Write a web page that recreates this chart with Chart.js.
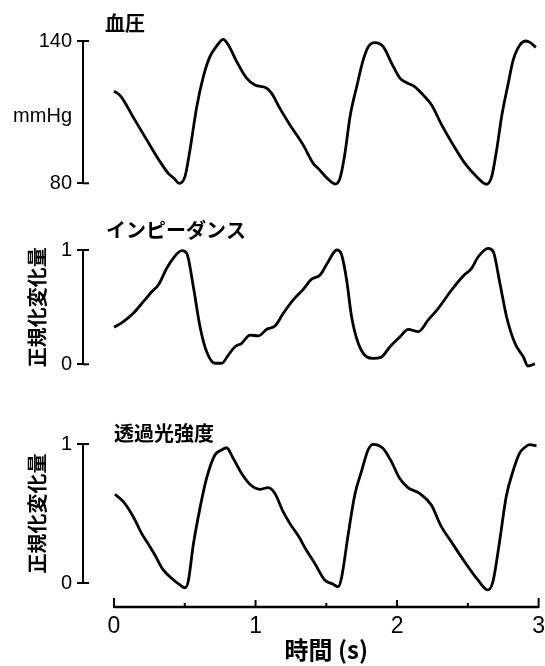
<!DOCTYPE html>
<html>
<head>
<meta charset="utf-8">
<script src="https://cdn.jsdelivr.net/npm/chart.js@4"></script>
<style>
  html, body { margin: 0; background: #fff; }
  #wrap { position: relative; width: 545px; height: 666px; }
  canvas { position: absolute; left: 0; top: 0; }
</style>
</head>
<body>
<div id="wrap">
  <canvas id="bpChart" width="545" height="666"></canvas>
  <canvas id="impChart" width="545" height="666"></canvas>
  <canvas id="lightChart" width="545" height="666"></canvas>
</div>
<script>
// Blood pressure (mmHg)
const bpTime = [0.000, 0.047, 0.136, 0.231, 0.325, 0.383, 0.423, 0.461, 0.501, 0.536, 0.584, 0.630, 0.677, 0.725, 0.771, 0.807, 0.866, 0.936, 0.995, 1.078, 1.113, 1.171, 1.242, 1.336, 1.406, 1.441, 1.512, 1.560, 1.595, 1.630, 1.666, 1.713, 1.759, 1.795, 1.842, 1.900, 1.960, 2.018, 2.066, 2.124, 2.183, 2.242, 2.313, 2.395, 2.477, 2.560, 2.630, 2.666, 2.701, 2.736, 2.783, 2.818, 2.865, 2.908, 2.936, 2.978];
const bpValue = [118.9, 116.8, 107.8, 98.3, 89.1, 84.2, 82.1, 80.0, 82.8, 94.0, 112.3, 124.9, 133.4, 137.9, 140.7, 138.3, 131.3, 124.3, 121.4, 120.1, 117.9, 111.6, 104.6, 96.1, 88.4, 86.3, 81.7, 79.7, 82.1, 92.6, 108.1, 120.7, 132.0, 137.6, 139.3, 137.6, 130.6, 124.3, 122.4, 120.7, 117.2, 113.0, 104.6, 96.1, 88.4, 82.8, 79.6, 82.8, 94.0, 108.1, 122.2, 132.0, 138.3, 140.0, 139.4, 137.3];

// Impedance (normalised change)
const impTime = [0.000, 0.066, 0.136, 0.207, 0.266, 0.313, 0.372, 0.418, 0.478, 0.513, 0.560, 0.607, 0.654, 0.713, 0.760, 0.807, 0.854, 0.901, 0.960, 1.018, 1.078, 1.136, 1.195, 1.265, 1.336, 1.395, 1.454, 1.512, 1.572, 1.607, 1.642, 1.677, 1.724, 1.783, 1.830, 1.884, 1.948, 2.019, 2.077, 2.148, 2.218, 2.289, 2.383, 2.465, 2.524, 2.571, 2.641, 2.677, 2.724, 2.771, 2.830, 2.889, 2.922, 2.971];
const impValue = [0.324, 0.373, 0.446, 0.548, 0.635, 0.694, 0.840, 0.927, 0.994, 0.971, 0.679, 0.329, 0.110, 0.009, 0.009, 0.081, 0.154, 0.184, 0.256, 0.248, 0.306, 0.335, 0.446, 0.563, 0.656, 0.745, 0.781, 0.898, 1.000, 0.956, 0.738, 0.416, 0.184, 0.066, 0.052, 0.061, 0.154, 0.241, 0.306, 0.285, 0.388, 0.490, 0.650, 0.773, 0.840, 0.941, 1.015, 0.985, 0.709, 0.416, 0.184, 0.066, -0.015, 0.003];

// Transmitted light intensity (normalised change)
const lightTime = [0.007, 0.066, 0.136, 0.195, 0.254, 0.289, 0.348, 0.407, 0.466, 0.501, 0.524, 0.560, 0.607, 0.654, 0.713, 0.760, 0.795, 0.842, 0.901, 0.960, 1.030, 1.089, 1.136, 1.195, 1.242, 1.313, 1.348, 1.418, 1.489, 1.548, 1.583, 1.607, 1.654, 1.701, 1.748, 1.795, 1.830, 1.900, 1.960, 2.018, 2.077, 2.159, 2.242, 2.313, 2.383, 2.477, 2.571, 2.641, 2.677, 2.724, 2.771, 2.818, 2.865, 2.900, 2.936, 2.985];
const lightValue = [0.638, 0.585, 0.477, 0.357, 0.261, 0.201, 0.094, 0.034, -0.014, -0.034, 0.009, 0.273, 0.537, 0.753, 0.921, 0.957, 0.973, 0.897, 0.789, 0.710, 0.674, 0.686, 0.645, 0.513, 0.429, 0.322, 0.255, 0.142, 0.022, -0.009, -0.027, 0.034, 0.345, 0.633, 0.801, 0.957, 0.998, 0.969, 0.873, 0.753, 0.686, 0.645, 0.561, 0.405, 0.297, 0.153, 0.022, -0.050, 0.009, 0.297, 0.621, 0.801, 0.933, 0.973, 0.996, 0.986];

// Ticks and labels
const bpTicks = [80, 108, 140];
const bpTickLabels = ['80', 'mmHg', '140'];
const normTicks = [0, 1];
const normTickLabels = ['0', '1'];
const timeTicks = [0, 1, 2, 3];
const timeMinorTicks = [0.5, 1.5, 2.5];

const bpTitle = '血圧';
const impTitle = 'インピーダンス';
const lightTitle = '透過光強度';
const normAxisTitle = '正規化変化量';
const timeAxisTitle = '時間 (s)';

const cjkFont = '"Noto Sans CJK JP", sans-serif';
const latinFont = '"Liberation Sans", Arial, sans-serif';

// Extra axis pieces: inner half of y ticks, panel label, detached time axis
const axisExtras = {
  id: 'axisExtras',
  afterDraw(chart, args, opts) {
    const ctx = chart.ctx;
    const x = chart.scales.x;
    const y = chart.scales.y;
    const left = chart.chartArea.left;
    ctx.save();
    ctx.strokeStyle = '#000';
    ctx.fillStyle = '#000';
    ctx.lineWidth = 2;
    opts.innerTicks.forEach(v => {
      const py = y.getPixelForValue(v);
      ctx.beginPath();
      ctx.moveTo(left, py);
      ctx.lineTo(left + 6, py);
      ctx.stroke();
    });

    ctx.font = 'bold 20px ' + cjkFont;
    ctx.textBaseline = 'middle';
    ctx.textAlign = 'left';
    ctx.fillText(opts.title, opts.titleX, opts.titleY);

    if (opts.timeAxis) {
      const py = opts.timeAxisY;
      const x0 = x.getPixelForValue(timeTicks[0]);
      const x1 = x.getPixelForValue(timeTicks[timeTicks.length - 1]);
      ctx.lineWidth = 2.5;
      ctx.beginPath();
      ctx.moveTo(x0, py);
      ctx.lineTo(x1, py);
      ctx.stroke();
      ctx.lineWidth = 2;
      timeTicks.forEach((t, i) => {
        const len = (i === 0 || i === timeTicks.length - 1) ? 9 : 7;
        const px = x.getPixelForValue(t);
        ctx.beginPath();
        ctx.moveTo(px, py + 1);
        ctx.lineTo(px, py - len);
        ctx.stroke();
      });
      timeMinorTicks.forEach(t => {
        const px = x.getPixelForValue(t);
        ctx.beginPath();
        ctx.moveTo(px, py);
        ctx.lineTo(px, py - 4);
        ctx.stroke();
      });
      ctx.font = 'bold 24px ' + cjkFont;
      ctx.textAlign = 'center';
      ctx.fillText(timeAxisTitle, x.getPixelForValue(1.5), opts.timeTitleY);
    }
    ctx.restore();
  }
};

function makePanel(id, cfg) {
  const ctx = document.getElementById(id).getContext('2d');
  return new Chart(ctx, {
    type: 'line',
    data: {
      datasets: [{
        data: cfg.times.map((t, i) => ({ x: t, y: cfg.values[i] })),
        borderColor: '#000',
        borderWidth: 2.8,
        pointRadius: 0,
        cubicInterpolationMode: 'monotone',
        fill: false,
        clip: false
      }]
    },
    options: {
      responsive: false,
      animation: false,
      events: [],
      layout: {
        padding: { top: cfg.padTop, bottom: cfg.padBottom, left: 0, right: 6 }
      },
      plugins: {
        legend: { display: false },
        tooltip: { enabled: false },
        axisExtras: {
          innerTicks: cfg.innerTicks,
          title: cfg.title,
          titleX: cfg.titleX,
          titleY: cfg.titleY,
          timeAxis: cfg.timeAxis,
          timeAxisY: 607,
          timeTitleY: 650
        }
      },
      scales: {
        x: {
          type: 'linear',
          min: -0.219,
          max: 3,
          display: cfg.timeAxis,
          afterFit: s => { if (cfg.timeAxis) s.height = 83; },
          afterBuildTicks: s => { s.ticks = timeTicks.map(v => ({ value: v })); },
          // tick marks are invisible; their length only pushes the labels down
          grid: { display: true, drawOnChartArea: false, drawTicks: true, tickLength: 30, tickColor: 'rgba(0,0,0,0)' },
          border: { display: false },
          ticks: {
            autoSkip: false,
            maxRotation: 0,
            padding: 0,
            color: '#000',
            font: { family: latinFont, size: 23 },
            callback: v => String(v)
          }
        },
        y: {
          min: cfg.yMin,
          max: cfg.yMax,
          afterFit: s => { s.width = 83; },
          afterBuildTicks: s => { s.ticks = cfg.ticks.map(v => ({ value: v })); },
          border: { display: true, color: '#000', width: 2 },
          grid: {
            drawOnChartArea: false,
            drawTicks: true,
            tickLength: 6,
            lineWidth: 2,
            tickColor: c => (cfg.hiddenTick !== undefined && c.tick && c.tick.value === cfg.hiddenTick) ? 'rgba(0,0,0,0)' : '#000'
          },
          ticks: {
            autoSkip: false,
            padding: 5,
            color: '#000',
            font: { family: latinFont, size: 20 },
            callback: v => cfg.tickLabels[cfg.ticks.indexOf(v)]
          },
          title: {
            display: !!cfg.axisTitle,
            text: cfg.axisTitle || '',
            color: '#000',
            font: { family: cjkFont, size: 20, weight: 'bold' },
            padding: { top: 25.5, bottom: 0 }
          }
        }
      }
    },
    plugins: [axisExtras]
  });
}

makePanel('bpChart', {
  times: bpTime, values: bpValue,
  yMin: 80, yMax: 140,
  ticks: bpTicks, tickLabels: bpTickLabels, innerTicks: [80, 140], hiddenTick: 108,
  padTop: 41, padBottom: 482.7,
  title: bpTitle, titleX: 105, titleY: 23,
  timeAxis: false
});

makePanel('impChart', {
  times: impTime, values: impValue,
  yMin: 0, yMax: 1,
  ticks: normTicks, tickLabels: normTickLabels, innerTicks: normTicks,
  axisTitle: normAxisTitle,
  padTop: 250, padBottom: 301.7,
  title: impTitle, titleX: 106, titleY: 230,
  timeAxis: false
});

makePanel('lightChart', {
  times: lightTime, values: lightValue,
  yMin: 0, yMax: 1,
  ticks: normTicks, tickLabels: normTickLabels, innerTicks: normTicks,
  axisTitle: normAxisTitle,
  padTop: 444, padBottom: 0,
  title: lightTitle, titleX: 114, titleY: 433,
  timeAxis: true
});
</script>
</body>
</html>
